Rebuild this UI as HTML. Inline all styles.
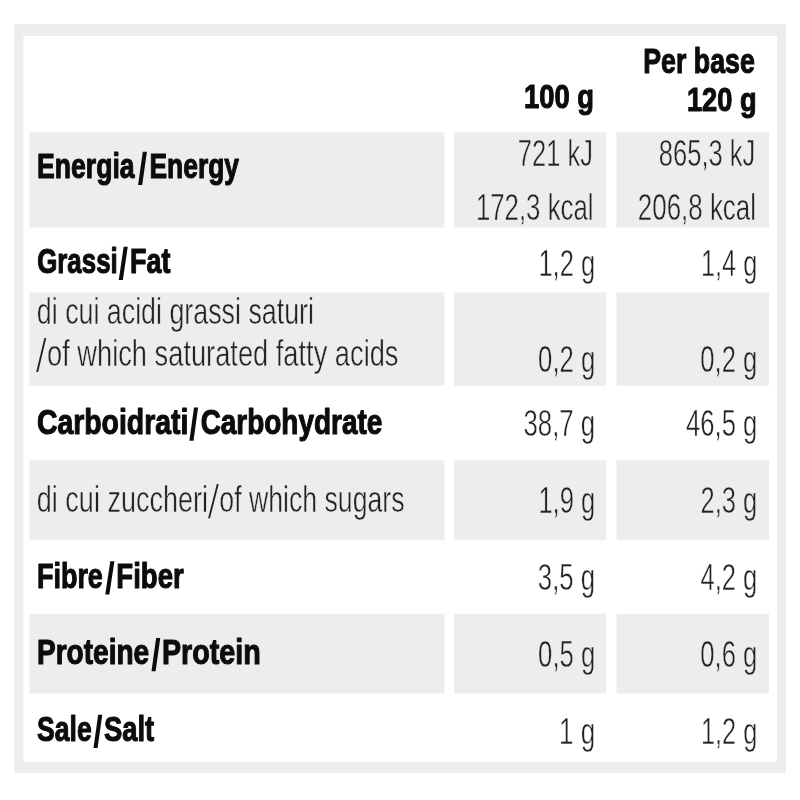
<!DOCTYPE html>
<html><head><meta charset="utf-8"><title>Nutrition table</title>
<style>
html,body{margin:0;padding:0;background:#fff;}
body{width:800px;height:800px;position:relative;overflow:hidden;font-family:"Liberation Sans",sans-serif;}
svg{position:absolute;left:0;top:0;will-change:transform;}
text{font-family:"Liberation Sans",sans-serif;white-space:pre;}
.b{font-weight:bold;fill:#0c0c0c;stroke:#0c0c0c;stroke-width:1.1;stroke-linejoin:round;}
.l{font-weight:normal;fill:#222;stroke-width:0.5;stroke-linejoin:round;}
.w{stroke:#ffffff;}
.y{stroke:#ededed;}
</style></head><body>
<svg width="800" height="800" viewBox="0 0 800 800">
<rect x="14.3" y="24" width="771.7" height="749.1" fill="#ededed"/>
<rect x="23.4" y="36" width="753.5" height="725.9" fill="#ffffff"/>
<rect x="29.4" y="132.3" width="415.1" height="95.3" fill="#ededed"/>
<rect x="454" y="132.3" width="152.25" height="95.3" fill="#ededed"/>
<rect x="616.5" y="132.3" width="152.5" height="95.3" fill="#ededed"/>
<rect x="29.4" y="292.4" width="415.1" height="93.2" fill="#ededed"/>
<rect x="454" y="292.4" width="152.25" height="93.2" fill="#ededed"/>
<rect x="616.5" y="292.4" width="152.5" height="93.2" fill="#ededed"/>
<rect x="29.4" y="460.3" width="415.1" height="80" fill="#ededed"/>
<rect x="454" y="460.3" width="152.25" height="80" fill="#ededed"/>
<rect x="616.5" y="460.3" width="152.5" height="80" fill="#ededed"/>
<rect x="29.4" y="613.7" width="415.1" height="79.8" fill="#ededed"/>
<rect x="454" y="613.7" width="152.25" height="79.8" fill="#ededed"/>
<rect x="616.5" y="613.7" width="152.5" height="79.8" fill="#ededed"/>
<polygon points="138.10,185.05 142.20,185.05 146.90,151.85 142.80,151.85" fill="#0c0c0c"/>
<polygon points="118.75,280.05 122.85,280.05 127.75,246.85 123.65,246.85" fill="#0c0c0c"/>
<polygon points="36.25,372.10 38.15,372.10 46.25,338.00 44.35,338.00" fill="#222"/>
<polygon points="189.40,440.70 193.50,440.70 198.10,407.50 194.00,407.50" fill="#0c0c0c"/>
<polygon points="208.10,518.20 210.00,518.20 218.75,484.10 216.85,484.10" fill="#222"/>
<polygon points="105.25,594.40 109.35,594.40 114.40,561.20 110.30,561.20" fill="#0c0c0c"/>
<polygon points="151.50,671.30 155.60,671.30 160.25,638.10 156.15,638.10" fill="#0c0c0c"/>
<polygon points="93.50,747.90 97.60,747.90 102.25,714.70 98.15,714.70" fill="#0c0c0c"/>
<text class="b" font-size="33.9" transform="translate(524.08 108.00) scale(0.8072 1.0000)">100 g</text>
<text class="b" font-size="34.6" transform="translate(643.28 73.00) scale(0.7732 1.0000)">Per base</text>
<text class="b" font-size="33.9" transform="translate(686.94 111.00) scale(0.8030 1.0000)">120 g</text>
<text class="b" font-size="34.6" transform="translate(36.98 178.00) scale(0.7695 1.0000)">Energia</text>
<text class="b" font-size="34.6" transform="translate(149.49 178.00) scale(0.7635 1.0000)">Energy</text>
<text class="l y" font-size="36.2" transform="translate(517.87 166.00) scale(0.7037 1.0000)">721 kJ</text>
<text class="l y" font-size="36.2" transform="translate(475.90 220.00) scale(0.7131 1.0000)">172,3 kcal</text>
<text class="l y" font-size="36.2" transform="translate(658.87 166.00) scale(0.7057 1.0000)">865,3 kJ</text>
<text class="l y" font-size="36.2" transform="translate(637.85 220.00) scale(0.7164 1.0000)">206,8 kcal</text>
<text class="b" font-size="34.6" transform="translate(37.16 273.00) scale(0.7480 1.0000)">Grassi</text>
<text class="b" font-size="34.6" transform="translate(130.12 273.00) scale(0.7774 1.0000)">Fat</text>
<text class="l w" font-size="36.2" transform="translate(538.41 276.00) scale(0.7053 1.0000)">1,2 g</text>
<text class="l w" font-size="36.2" transform="translate(700.93 276.00) scale(0.7000 1.0000)">1,4 g</text>
<text class="l y" font-size="36.2" transform="translate(36.82 324.00) scale(0.7408 1.0000)">di cui acidi grassi saturi</text>
<text class="l y" font-size="36.2" transform="translate(47.06 366.00) scale(0.7531 1.0000)">of which saturated fatty acids</text>
<text class="l y" font-size="36.2" transform="translate(538.11 372.00) scale(0.7091 1.0000)">0,2 g</text>
<text class="l y" font-size="36.2" transform="translate(700.37 372.00) scale(0.7071 1.0000)">0,2 g</text>
<text class="b" font-size="34.6" transform="translate(36.93 434.00) scale(0.8211 1.0000)">Carboidrati</text>
<text class="b" font-size="34.6" transform="translate(200.64 434.00) scale(0.8078 1.0000)">Carbohydrate</text>
<text class="l w" font-size="36.2" transform="translate(523.51 436.00) scale(0.7125 1.0000)">38,7 g</text>
<text class="l w" font-size="36.2" transform="translate(686.07 436.00) scale(0.7078 1.0000)">46,5 g</text>
<text class="l y" font-size="36.2" transform="translate(36.82 512.00) scale(0.7464 1.0000)">di cui zuccheri</text>
<text class="l y" font-size="36.2" transform="translate(219.33 512.00) scale(0.7365 1.0000)">of which sugars</text>
<text class="l y" font-size="36.2" transform="translate(538.41 513.00) scale(0.7053 1.0000)">1,9 g</text>
<text class="l y" font-size="36.2" transform="translate(700.62 513.00) scale(0.7039 1.0000)">2,3 g</text>
<text class="b" font-size="34.6" transform="translate(36.97 588.00) scale(0.7793 1.0000)">Fibre</text>
<text class="b" font-size="34.6" transform="translate(116.35 588.00) scale(0.7965 1.0000)">Fiber</text>
<text class="l w" font-size="36.2" transform="translate(537.86 590.00) scale(0.7123 1.0000)">3,5 g</text>
<text class="l w" font-size="36.2" transform="translate(700.42 590.00) scale(0.7064 1.0000)">4,2 g</text>
<text class="b" font-size="34.6" transform="translate(36.92 664.00) scale(0.8111 1.0000)">Proteine</text>
<text class="b" font-size="34.6" transform="translate(161.90 664.00) scale(0.8295 1.0000)">Protein</text>
<text class="l y" font-size="36.2" transform="translate(538.11 667.00) scale(0.7091 1.0000)">0,5 g</text>
<text class="l y" font-size="36.2" transform="translate(700.37 667.00) scale(0.7071 1.0000)">0,6 g</text>
<text class="b" font-size="34.6" transform="translate(37.05 741.00) scale(0.7676 1.0000)">Sale</text>
<text class="b" font-size="34.6" transform="translate(103.94 741.00) scale(0.7922 1.0000)">Salt</text>
<text class="l w" font-size="36.2" transform="translate(558.98 744.00) scale(0.7202 1.0000)">1 g</text>
<text class="l w" font-size="36.2" transform="translate(700.93 744.00) scale(0.7000 1.0000)">1,2 g</text>
</svg>
</body></html>
